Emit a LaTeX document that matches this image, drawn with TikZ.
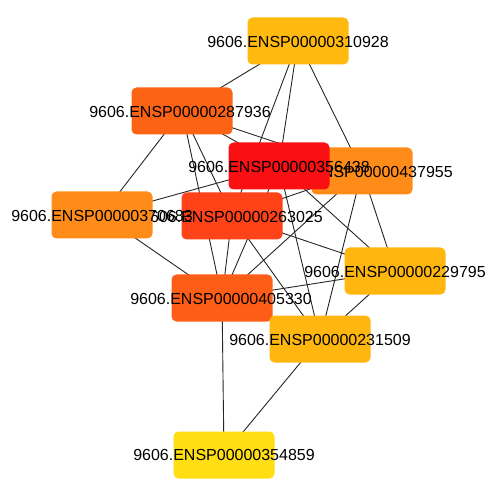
\documentclass[tikz,border=0pt]{standalone}
\usepackage{fontspec}
\setmainfont{Liberation Sans}
\pgfdeclarelayer{background}
\pgfsetlayers{background,main}
\definecolor{cA}{RGB}{255,185,15}
\definecolor{cB}{RGB}{252,99,21}
\definecolor{cC}{RGB}{250,16,18}
\definecolor{cD}{RGB}{255,140,25}
\definecolor{cF}{RGB}{255,66,24}
\definecolor{cG}{RGB}{253,93,22}
\definecolor{cH}{RGB}{255,182,15}
\definecolor{cJ}{RGB}{255,222,20}
\begin{document}
\begin{tikzpicture}[x=1pt,y=-1pt,
  gene/.style={rectangle, rounded corners=5pt, minimum width=101pt, minimum height=47pt, inner sep=0pt, draw=none},
  lbl/.style={font=\fontsize{16}{16}\selectfont, inner sep=0pt, text=black},
  edge/.style={draw=black!85, line width=0.9pt}]
\useasboundingbox (0,0) rectangle (495,486);
\node[gene, fill=cA] (A) at (298,41) {};
\node[lbl] (Al) at (298,42) {9606.ENSP00000310928};
\node[gene, fill=cB] (B) at (182,111) {};
\node[lbl] (Bl) at (180,112) {9606.ENSP00000287936};
\node[gene, fill=cD] (D) at (362,171) {};
\node[lbl] (Dl) at (362,172) {9606.ENSP00000437955};
\node[gene, fill=cC] (C) at (279,166) {};
\node[lbl] (Cl) at (279,167) {9606.ENSP00000356438};
\node[gene, fill=cF] (F) at (232,216) {};
\node[lbl] (Fl) at (232,217) {9606.ENSP00000263025};
\node[gene, fill=cD] (E) at (102,215) {};
\node[lbl] (El) at (102,216) {9606.ENSP00000370683};
\node[gene, fill=cG] (G) at (222,298) {};
\node[lbl] (Gl) at (221,299) {9606.ENSP00000405330};
\node[gene, fill=cH] (H) at (395,271) {};
\node[lbl] (Hl) at (395,272) {9606.ENSP00000229795};
\node[gene, fill=cH] (I) at (320,339) {};
\node[lbl] (Il) at (320,340) {9606.ENSP00000231509};
\node[gene, fill=cJ] (J) at (224,455) {};
\node[lbl] (Jl) at (224,455) {9606.ENSP00000354859};
\begin{pgfonlayer}{background}
\foreach \u/\v in {A/B,A/F,A/C,A/D,B/E,B/F,B/G,B/C,B/D,C/E,C/G,C/I,C/H,D/F,D/G,D/I,D/H,E/G,F/G,F/I,F/H,G/H,G/J,H/I,I/J}
  \draw[edge] (\u.center) -- (\v.center);
\end{pgfonlayer}
\end{tikzpicture}
\end{document}
